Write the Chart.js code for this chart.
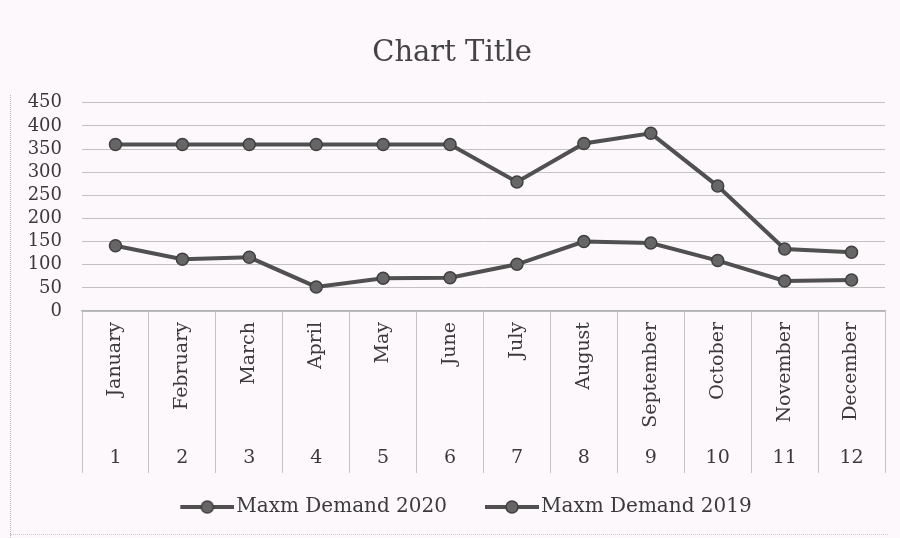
<!DOCTYPE html>
<html>
<head>
<meta charset="utf-8">
<title>Chart Title</title>
<script src="https://cdn.jsdelivr.net/npm/chart.js@4.4.1/dist/chart.umd.min.js"></script>
<style>
  html, body { margin: 0; padding: 0; background: #fdf8fc; }
  #wrap { position: relative; width: 900px; height: 538px; }
  #edge { position: absolute; left: 10px; top: 95px; bottom: 0; border-left: 1px dotted #b8b8b8; }
  #foot { position: absolute; left: 10px; right: 12px; bottom: 3px; border-bottom: 1px dotted #c8c8c8; }
  canvas { position: absolute; left: 0; top: 0; }
</style>
</head>
<body>
<div id="wrap">
  <div id="edge"></div>
  <div id="foot"></div>
  <canvas id="demandChart" width="900" height="538"></canvas>
</div>
<script>
// chart data
const months = ['January', 'February', 'March', 'April', 'May', 'June',
                'July', 'August', 'September', 'October', 'November', 'December'];
const monthNumbers = ['1', '2', '3', '4', '5', '6', '7', '8', '9', '10', '11', '12'];
const demand2020 = [141, 112, 116, 52, 71, 72, 101, 150, 147, 109, 65, 67];
const demand2019 = [360, 360, 360, 360, 360, 360, 279, 362, 384, 270, 134, 127];
const seriesNames = ['Maxm Demand 2020', 'Maxm Demand 2019'];
const yMax = 450;
const yStep = 50;

const FONT = "'DejaVu Serif', 'Liberation Serif', serif";
const LINE = '#505050';
const MARKER = '#666666';
const MARKER_EDGE = '#404040';

// legend symbol: line with a round marker, blank space on the left
// so the gap between the two legend entries is wider
function makeLegendSymbol() {
    const blank = 36, w = 54;
    const c = document.createElement('canvas');
    c.width = blank + w;
    c.height = 14;
    const g = c.getContext('2d');
    g.strokeStyle = LINE;
    g.lineWidth = 4;
    g.beginPath();
    g.moveTo(blank, 7);
    g.lineTo(blank + w, 7);
    g.stroke();
    g.beginPath();
    g.arc(blank + w / 2, 7, 6, 0, Math.PI * 2);
    g.fillStyle = MARKER;
    g.fill();
    g.lineWidth = 1.5;
    g.strokeStyle = MARKER_EDGE;
    g.stroke();
    return c;
}

function seriesStyle(label, data) {
    return {
        label: label,
        data: data,
        xAxisID: 'x',
        borderColor: LINE,
        backgroundColor: MARKER,
        borderWidth: 4,
        pointRadius: 6,
        pointHoverRadius: 6,
        pointBackgroundColor: MARKER,
        pointBorderColor: MARKER_EDGE,
        pointBorderWidth: 1.5,
        tension: 0
    };
}

const ctx = document.getElementById('demandChart').getContext('2d');

new Chart(ctx, {
    type: 'line',
    data: {
        labels: months,
        datasets: [
            seriesStyle(seriesNames[0], demand2020),
            seriesStyle(seriesNames[1], demand2019)
        ]
    },
    options: {
        responsive: false,
        animation: false,
        layout: {
            padding: { left: 19, right: 15, top: 0, bottom: 11 }
        },
        plugins: {
            title: {
                display: true,
                text: 'Chart Title',
                color: '#444444',
                font: { family: FONT, size: 29, weight: 'normal' },
                padding: { top: 36, bottom: 32 }
            },
            legend: {
                display: true,
                position: 'bottom',
                labels: {
                    color: '#3a3a3a',
                    font: { family: FONT, size: 20 },
                    usePointStyle: true,
                    pointStyle: makeLegendSymbol(),
                    pointStyleWidth: 74,
                    padding: 10
                }
            },
            tooltip: { enabled: false }
        },
        scales: {
            x: {
                type: 'category',
                position: 'bottom',
                offset: true,
                grid: {
                    offset: true,
                    drawOnChartArea: false,
                    drawTicks: true,
                    tickLength: 162,
                    color: '#c4c4c4'
                },
                border: { display: true, color: '#b4b4b4', width: 1.5 },
                ticks: {
                    autoSkip: false,
                    minRotation: 90,
                    maxRotation: 90,
                    padding: -151,
                    color: '#3a3a3a',
                    font: { family: FONT, size: 19 }
                },
                afterFit: (scale) => { scale.height = 132; }
            },
            x2: {
                type: 'category',
                position: 'bottom',
                labels: monthNumbers,
                offset: true,
                grid: { display: false, drawTicks: false },
                border: { display: false },
                ticks: {
                    autoSkip: false,
                    maxRotation: 0,
                    padding: 4,
                    color: '#3a3a3a',
                    font: { family: FONT, size: 19 }
                },
                afterFit: (scale) => { scale.height = 44; }
            },
            y: {
                min: 0,
                max: yMax,
                ticks: {
                    stepSize: yStep,
                    autoSkip: false,
                    padding: 20,
                    color: '#3a3a3a',
                    font: { family: FONT, size: 18 }
                },
                grid: {
                    drawTicks: false,
                    color: '#c2c2c2',
                    lineWidth: 1
                },
                border: { display: false },
                afterFit: (scale) => { scale.width = 63; }
            }
        }
    }
});
</script>
</body>
</html>
